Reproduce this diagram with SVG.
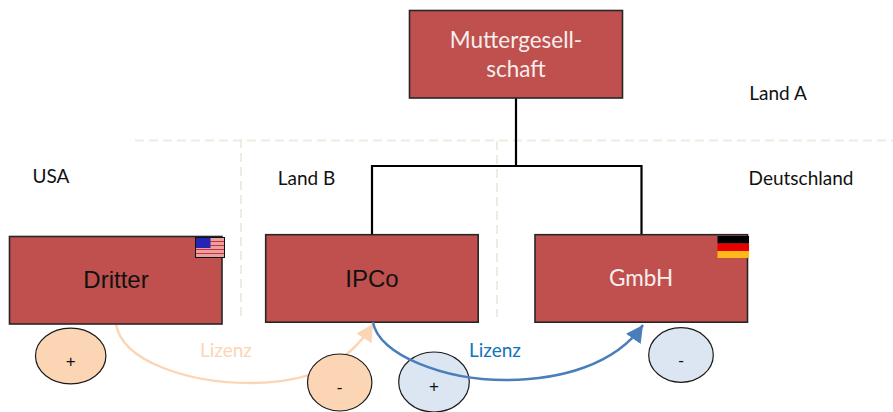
<svg xmlns="http://www.w3.org/2000/svg" width="893" height="412" viewBox="0 0 893 412">
<style>
.box{fill:#c0504d;stroke:#262626;stroke-width:1.6}
.t{font-family:Lato,"Liberation Sans",sans-serif;text-anchor:middle}
.a{font-family:"Liberation Sans",Arial,sans-serif;text-anchor:middle}
.w{fill:#f6eeee;font-size:22.500px}
.lab{fill:#111;font-size:19px}
.el{stroke:#1a1a1a;stroke-width:1.2}
.or{fill:#fcd5b5}
.bl{fill:#dce6f2}
.sign{fill:#111;font-size:17px}
.dash{fill:none;stroke:#eeece1;stroke-width:2;stroke-dasharray:9 5}
.org{fill:none;stroke:#000;stroke-width:2.200}
</style>
<defs>
<marker id="ao" markerUnits="userSpaceOnUse" markerWidth="20" markerHeight="20" refX="17" refY="9" orient="auto"><path d="M0,0L17,9L0,18Z" fill="#fcd5b5"/></marker>
<marker id="ab" markerUnits="userSpaceOnUse" markerWidth="20" markerHeight="20" refX="17" refY="9" orient="auto"><path d="M0,0L17,9L0,18Z" fill="#4a7ebb"/></marker>
</defs>
<g id="grid">
<path class="dash" d="M135,140.500H893"/>
<path class="dash" d="M241,139V316"/>
<path class="dash" d="M497,141V317"/>
</g>
<g id="connectors-org">
<path class="org" d="M516,98V166M372,235V166H641.500V235"/>
</g>
<g id="connector-orange">
<path d="M116,324C122,362 190,383 250,383C305,383 345,368 373,324" fill="none" stroke="#fcd5b5" stroke-width="2.400" marker-end="url(#ao)"/>
</g>
<g id="node-mutter">
<rect class="box" x="409.500" y="10.500" width="213" height="87.500"/>
<text class="t w" x="516" y="48">Muttergesell-</text>
<text class="t w" x="516" y="77">schaft</text>
</g>
<g id="node-dritter">
<rect class="box" x="9.500" y="236.500" width="212.500" height="87.500"/>
<text class="a" x="116" y="288" font-size="24" fill="#111">Dritter</text>
<g id="flag-us">
<rect x="195.500" y="237.500" width="29" height="20" fill="#e9a0a0"/>
<path d="M195.500,241.500H224.500M195.500,245.500H224.500M195.500,249.500H224.500M195.500,253.500H224.500" stroke="#c9303a" stroke-width="1.200"/>
<rect x="196" y="238" width="14.500" height="10" fill="#2525b5"/>
<rect x="195.500" y="237.500" width="29" height="20" fill="none" stroke="#111"/>
</g>
</g>
<g id="node-ipco">
<rect class="box" x="265.700" y="234.700" width="212.500" height="87.500"/>
<text class="a" x="372" y="287" font-size="24" fill="#111">IPCo</text>
</g>
<g id="node-gmbh">
<rect class="box" x="535" y="234.700" width="212.500" height="87.500"/>
<text class="t w" x="641" y="286">GmbH</text>
<g id="flag-de">
<rect x="717.500" y="236" width="31.500" height="7.500" fill="#000"/>
<rect x="717.500" y="243.500" width="31.500" height="7.500" fill="#e60000"/>
<rect x="717.500" y="251" width="31.500" height="7" fill="#ffb819"/>
</g>
</g>
<g id="ellipse-plus-orange">
<ellipse class="el or" cx="70.700" cy="356" rx="35.200" ry="27.800"/>
<text class="a sign" x="70.700" y="367">+</text>
</g>
<g id="ellipse-minus-orange">
<ellipse class="el or" cx="339.700" cy="382.500" rx="32.200" ry="28.500"/>
<text class="a sign" x="339.700" y="393">-</text>
</g>
<g id="ellipse-plus-blue">
<ellipse class="el bl" cx="434" cy="382" rx="35.300" ry="30"/>
<text class="a sign" x="434" y="392">+</text>
</g>
<g id="ellipse-minus-blue">
<ellipse class="el bl" cx="681" cy="355" rx="32.300" ry="27.300"/>
<text class="a sign" x="681" y="366">-</text>
</g>
<g id="connector-blue">
<path d="M373,322C378,355 445,380 505,380C560,380 615,365 643,325" fill="none" stroke="#4a7ebb" stroke-width="2.400" marker-end="url(#ab)"/>
</g>
<g id="labels">
<text class="t" x="226" y="357" font-size="19" fill="#fcd5b5">Lizenz</text>
<text class="t" x="495" y="357" font-size="19" fill="#0f75bc">Lizenz</text>
<text class="t lab" x="778" y="99.500">Land A</text>
<text class="t lab" x="51" y="182.500">USA</text>
<text class="t lab" x="306.500" y="184.500">Land B</text>
<text class="t lab" x="801" y="184.500">Deutschland</text>
</g>
</svg>
